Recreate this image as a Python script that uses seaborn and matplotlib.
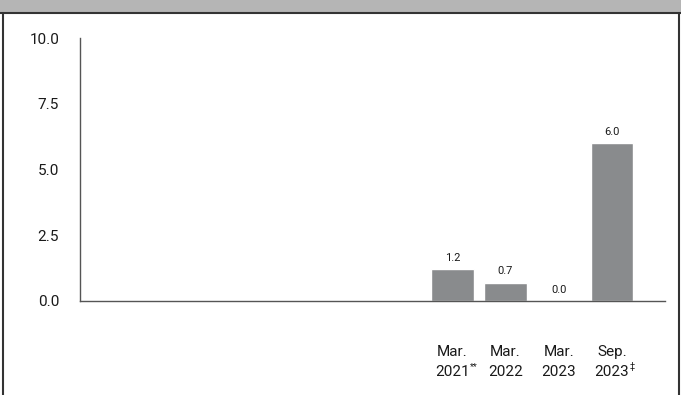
import matplotlib
matplotlib.use("Agg")
import matplotlib.pyplot as plt
from matplotlib.patches import Rectangle
from matplotlib.lines import Line2D
import seaborn as sns
import pandas as pd

# Survey periods and reported values
periods = ["Mar.\n2021", "Mar.\n2022", "Mar.\n2023", "Sep.\n2023"]
period_notes = ["**", "", "", "\u2021"]
values = [1.2, 0.7, 0.0, 6.0]
value_labels = ["1.2", "0.7", "0.0", "6.0"]
y_ticks = [0.0, 2.5, 5.0, 7.5, 10.0]
y_tick_labels = ["0.0", "2.5", "5.0", "7.5", "10.0"]

df = pd.DataFrame({"period": periods, "value": values})

sns.set_theme(style="white")
plt.rcParams["font.family"] = ["Roboto", "DejaVu Sans"]

fig = plt.figure(figsize=(6.81, 3.95), dpi=100)
ax = fig.add_axes([80 / 681, 1 - 301 / 395, (665 - 80) / 681, (301 - 38) / 395])

sns.barplot(data=df, x="period", y="value", color="#898b8d", saturation=1,
            width=0.8, ax=ax)

ax.set_xlim(-7, 4)
ax.set_ylim(0, 10)
ax.set_yticks(y_ticks)
ax.set_yticklabels(y_tick_labels)
ax.set_xlabel("")
ax.set_ylabel("")
ax.tick_params(axis="y", length=0, pad=15, labelsize=11, colors="#1a1a1a")
ax.tick_params(axis="x", length=0, pad=32, labelsize=11, colors="#1a1a1a")
for lbl in ax.get_xticklabels():
    lbl.set_multialignment("center")
    lbl.set_linespacing(1.55)

for side in ["top", "right"]:
    ax.spines[side].set_visible(False)
for side in ["left", "bottom"]:
    ax.spines[side].set_color("#555555")
    ax.spines[side].set_linewidth(1.0)

# Value labels above each bar
for i, (v, t) in enumerate(zip(values, value_labels)):
    ax.annotate(t, xy=(i, v), xytext=(0, 4.5), textcoords="offset points",
                ha="center", va="bottom", fontsize=8, color="#1a1a1a")

# Footnote marks as superscripts after the year line
fig.canvas.draw()
renderer = fig.canvas.get_renderer()
inv = fig.transFigure.inverted()
for lbl, note in zip(ax.get_xticklabels(), period_notes):
    if not note:
        continue
    bb = lbl.get_window_extent(renderer)
    line_h = bb.height / 2.0
    fx, fy = inv.transform((bb.x1 + 0.5, bb.y0 + line_h * 0.5))
    fig.text(fx, fy, note, fontsize=6.5, color="#1a1a1a", ha="left", va="bottom")

# Header band and panel frame
H, W = 395, 681
fig.patches.append(Rectangle((0, 1 - 12.5 / H), 1, 12.5 / H, transform=fig.transFigure,
                             facecolor="#b5b5b5", edgecolor="none", zorder=0))
fig.lines.append(Line2D([0, 1], [1 - 12.5 / H] * 2, transform=fig.transFigure,
                        color="#333333", linewidth=1.5))
fig.lines.append(Line2D([3 / W] * 2, [0, 1 - 12.5 / H], transform=fig.transFigure,
                        color="#333333", linewidth=1.5))
fig.lines.append(Line2D([679 / W] * 2, [0, 1 - 12.5 / H], transform=fig.transFigure,
                        color="#333333", linewidth=1.5))

fig.savefig("out.png", dpi=100)
